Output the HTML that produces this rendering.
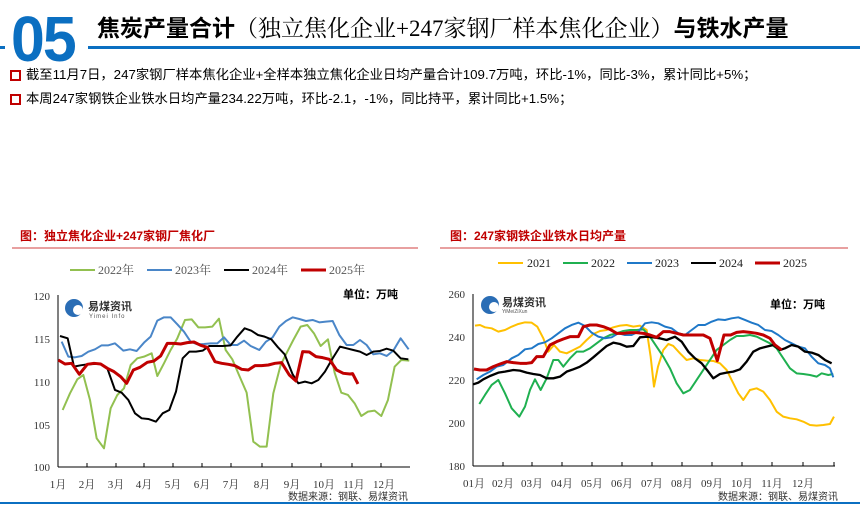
<!DOCTYPE html>
<html><head><meta charset="utf-8">
<style>
body{margin:0;width:860px;height:506px;background:#fff;overflow:hidden;position:relative;font-family:"Liberation Sans","Noto Sans CJK SC",sans-serif;}
.abs{position:absolute;}
</style></head><body>
<div class="abs" style="left:0;top:46px;width:5px;height:3px;background:#0b6fc1"></div>
<div class="abs" style="left:88px;top:46px;width:772px;height:3px;background:#0b6fc1"></div>
<div class="abs" style="left:11px;top:4px;font-size:64px;font-weight:bold;color:#0b6fc1;line-height:70px;transform:scaleX(0.95);transform-origin:left;letter-spacing:-2px">05</div>
<div class="abs" style="left:97px;top:13px;font-size:23px;line-height:30px;white-space:nowrap;color:#000"><b>焦炭产量合计</b><span style="font-family:'Liberation Serif','Noto Serif CJK SC',serif">（独立焦化企业+247家钢厂样本焦化企业）</span><b>与铁水产量</b></div>
<div class="abs" style="left:10px;top:70px;width:7px;height:7px;border:2px solid #c00000"></div>
<div class="abs" style="left:26px;top:66px;font-size:13.3px;line-height:18px;white-space:nowrap">截至11月7日，247家钢厂样本焦化企业+全样本独立焦化企业日均产量合计109.7万吨，环比-1%，同比-3%，累计同比+5%；</div>
<div class="abs" style="left:10px;top:94px;width:7px;height:7px;border:2px solid #c00000"></div>
<div class="abs" style="left:26px;top:90px;font-size:13.3px;line-height:18px;white-space:nowrap">本周247家钢铁企业铁水日均产量234.22万吨，环比-2.1，-1%，同比持平，累计同比+1.5%；</div>
<div class="abs" style="left:0;top:502px;width:860px;height:2px;background:#0b6fc1"></div>

<svg class="abs" style="left:0;top:0" width="860" height="506" font-family="Liberation Serif,Noto Serif CJK SC,serif">
<text x="20" y="240" font-size="12" font-weight="bold" fill="#c00000" font-family="Liberation Sans,Noto Sans CJK SC,sans-serif">图：独立焦化企业+247家钢厂焦化厂</text>
<line x1="12" y1="248" x2="418" y2="248" stroke="#d04040" stroke-width="1"/>
<g font-size="12" fill="#555">
<line x1="70" y1="270" x2="95" y2="270" stroke="#92c050" stroke-width="2"/><text x="98" y="274">2022年</text>
<line x1="147" y1="270" x2="172" y2="270" stroke="#4a86c8" stroke-width="2"/><text x="175" y="274">2023年</text>
<line x1="224" y1="270" x2="249" y2="270" stroke="#000" stroke-width="2"/><text x="252" y="274">2024年</text>
<line x1="301" y1="270" x2="326" y2="270" stroke="#c00000" stroke-width="3"/><text x="329" y="274">2025年</text>
</g>
<text x="343" y="298" font-size="11" font-weight="bold" font-family="Liberation Sans,Noto Sans CJK SC,sans-serif">单位：万吨</text>
<circle cx="74" cy="308" r="9" fill="#2a6db5"/><circle cx="78" cy="310" r="5" fill="#fff"/>
<text x="88" y="310" font-size="11" font-weight="bold" fill="#333" font-family="Liberation Sans,Noto Sans CJK SC,sans-serif">易煤资讯</text>
<text x="89" y="318" font-size="6" fill="#555" font-family="Liberation Sans,sans-serif" letter-spacing="1">Yimei Info</text>
<line x1="58" y1="295" x2="58" y2="467" stroke="#000"/>
<line x1="58" y1="467" x2="410" y2="467" stroke="#000"/>
<g stroke="#000"><line x1="87" y1="467" x2="87" y2="463"/><line x1="116" y1="467" x2="116" y2="463"/><line x1="144" y1="467" x2="144" y2="463"/><line x1="173" y1="467" x2="173" y2="463"/><line x1="202" y1="467" x2="202" y2="463"/><line x1="231" y1="467" x2="231" y2="463"/><line x1="262" y1="467" x2="262" y2="463"/><line x1="292" y1="467" x2="292" y2="463"/><line x1="321" y1="467" x2="321" y2="463"/><line x1="352" y1="467" x2="352" y2="463"/><line x1="381" y1="467" x2="381" y2="463"/></g>
<g font-size="11" fill="#333" text-anchor="end"><text x="50" y="300">120</text><text x="50" y="343">115</text><text x="50" y="386">110</text><text x="50" y="429">105</text><text x="50" y="471">100</text></g>
<g font-size="11" fill="#333" text-anchor="middle"><text x="58" y="488">1月</text><text x="87" y="488">2月</text><text x="116" y="488">3月</text><text x="144" y="488">4月</text><text x="173" y="488">5月</text><text x="202" y="488">6月</text><text x="231" y="488">7月</text><text x="262" y="488">8月</text><text x="292" y="488">9月</text><text x="324" y="488">10月</text><text x="354" y="488">11月</text><text x="384" y="488">12月</text></g>
<text x="408" y="500" font-size="10" fill="#333" text-anchor="end" font-family="Liberation Sans,Noto Sans CJK SC,sans-serif">数据来源：钢联、易煤资讯</text>
<g transform="translate(0,220) scale(0.3333)" fill="none" stroke-linejoin="round">
<polyline stroke="#92c050" stroke-width="6" points="188,570 210,520 232,478 250,465 270,540 290,655 312,685 332,565 352,525 372,505 392,435 412,415 432,410 455,400 472,468 492,430 512,390 532,355 555,300 575,298 595,322 615,322 637,320 657,296 677,390 697,418 717,465 740,518 760,665 780,680 800,680 820,520 842,435 862,395 880,360 902,320 922,315 942,340 962,378 984,358 1004,458 1024,518 1044,525 1064,550 1084,588 1104,575 1124,572 1144,588 1164,540 1184,440 1204,420 1228,422"/>
<polyline stroke="#4a86c8" stroke-width="6" points="185,365 205,410 225,412 245,408 265,395 285,388 305,376 325,376 345,370 370,392 390,388 410,393 432,368 452,350 472,302 492,292 512,292 532,313 552,335 572,365 592,373 612,372 632,370 652,370 672,352 692,375 712,375 732,362 752,378 778,390 798,365 818,352 838,320 858,303 878,292 898,297 918,303 938,300 958,307 978,305 998,303 1018,345 1040,375 1060,375 1080,360 1100,375 1120,403 1140,400 1160,408 1180,392 1202,355 1226,388"/>
<polyline stroke="#000" stroke-width="6" points="180,348 203,355 222,440 242,436 262,433 282,432 302,432 322,445 345,510 365,518 385,540 405,580 425,595 445,597 468,605 488,580 508,570 528,515 548,415 568,395 588,395 608,392 628,378 648,378 668,378 692,376 712,350 734,325 754,332 774,345 794,350 814,358 834,382 854,403 878,463 895,490 915,485 935,490 955,480 975,455 995,420 1020,380 1040,385 1060,390 1080,395 1100,405 1120,395 1140,393 1160,386 1180,392 1202,415 1225,418"/>
<polyline stroke="#c00000" stroke-width="9" points="175,420 195,432 215,430 238,463 262,433 282,430 302,432 322,445 342,455 362,470 380,490 400,450 420,442 442,427 462,423 482,408 502,370 522,370 542,372 562,368 582,366 602,376 622,382 645,425 665,430 685,433 705,437 725,448 745,450 765,437 785,437 805,435 825,430 845,428 868,465 888,483 908,395 928,396 948,410 968,413 988,418 1010,450 1030,460 1050,462 1058,461 1074,492"/>
</g>

<text x="450" y="240" font-size="12" font-weight="bold" fill="#c00000" font-family="Liberation Sans,Noto Sans CJK SC,sans-serif">图：247家钢铁企业铁水日均产量</text>
<line x1="440" y1="248" x2="848" y2="248" stroke="#d04040" stroke-width="1"/>
<g font-size="12" fill="#222">
<line x1="498" y1="263" x2="523" y2="263" stroke="#ffc000" stroke-width="2"/><text x="527" y="267">2021</text>
<line x1="563" y1="263" x2="588" y2="263" stroke="#1fb050" stroke-width="2"/><text x="591" y="267">2022</text>
<line x1="627" y1="263" x2="652" y2="263" stroke="#1f78c8" stroke-width="2"/><text x="655" y="267">2023</text>
<line x1="691" y1="263" x2="716" y2="263" stroke="#000" stroke-width="2"/><text x="719" y="267">2024</text>
<line x1="755" y1="263" x2="780" y2="263" stroke="#c00000" stroke-width="3"/><text x="783" y="267">2025</text>
</g>
<text x="770" y="308" font-size="11" font-weight="bold" font-family="Liberation Sans,Noto Sans CJK SC,sans-serif">单位：万吨</text>
<circle cx="490" cy="305" r="9" fill="#2a6db5"/><circle cx="494" cy="307" r="5" fill="#fff"/>
<text x="502" y="306" font-size="11" font-weight="bold" fill="#333" font-family="Liberation Sans,Noto Sans CJK SC,sans-serif">易煤资讯</text>
<text x="502" y="313" font-size="5" fill="#555" font-family="Liberation Sans,sans-serif">YiMeiZiXun</text>
<line x1="473" y1="294" x2="473" y2="466" stroke="#000"/>
<line x1="473" y1="466" x2="835" y2="466" stroke="#000"/>
<g stroke="#000"><line x1="503" y1="466" x2="503" y2="462"/><line x1="532" y1="466" x2="532" y2="462"/><line x1="562" y1="466" x2="562" y2="462"/><line x1="592" y1="466" x2="592" y2="462"/><line x1="622" y1="466" x2="622" y2="462"/><line x1="652" y1="466" x2="652" y2="462"/><line x1="682" y1="466" x2="682" y2="462"/><line x1="712" y1="466" x2="712" y2="462"/><line x1="742" y1="466" x2="742" y2="462"/><line x1="772" y1="466" x2="772" y2="462"/><line x1="803" y1="466" x2="803" y2="462"/><line x1="834" y1="466" x2="834" y2="462"/></g>
<g font-size="11" fill="#333" text-anchor="end"><text x="465" y="298">260</text><text x="465" y="341">240</text><text x="465" y="384">220</text><text x="465" y="427">200</text><text x="465" y="470">180</text></g>
<g font-size="11" fill="#333" text-anchor="middle"><text x="474" y="487">01月</text><text x="503" y="487">02月</text><text x="532" y="487">03月</text><text x="562" y="487">04月</text><text x="592" y="487">05月</text><text x="622" y="487">06月</text><text x="652" y="487">07月</text><text x="682" y="487">08月</text><text x="712" y="487">09月</text><text x="742" y="487">10月</text><text x="772" y="487">11月</text><text x="803" y="487">12月</text></g>
<text x="838" y="500" font-size="10" fill="#333" text-anchor="end" font-family="Liberation Sans,Noto Sans CJK SC,sans-serif">数据来源：钢联、易煤资讯</text>
<g transform="translate(430,220) scale(0.3333)" fill="none" stroke-linejoin="round">
<polyline stroke="#ffc000" stroke-width="6" points="135,317 150,315 165,322 185,325 205,335 225,330 245,320 265,312 285,307 305,308 322,320 340,355 355,395 372,375 390,395 410,400 430,390 450,380 470,360 490,342 510,333 530,330 550,322 570,317 590,315 610,320 630,317 650,330 662,410 672,500 684,440 700,390 715,372 730,378 750,400 770,420 790,415 810,420 830,422 850,423 870,430 890,450 910,490 925,520 940,540 960,510 980,505 1000,515 1020,540 1040,575 1060,590 1080,595 1100,598 1120,605 1140,615 1160,617 1180,615 1200,612 1212,590"/>
<polyline stroke="#1fb050" stroke-width="6" points="148,552 165,525 185,495 205,480 225,520 245,565 268,590 285,560 300,510 315,478 332,510 350,475 370,420 385,420 400,440 420,415 440,395 460,395 480,385 500,370 520,355 540,345 560,340 580,333 600,330 620,330 640,328 660,350 680,380 700,410 720,445 740,490 760,520 780,510 800,480 820,450 840,420 860,390 880,375 900,360 920,348 940,348 960,345 980,350 1000,360 1020,370 1040,385 1060,415 1080,445 1100,460 1120,462 1140,465 1160,470 1175,460 1195,465 1210,462"/>
<polyline stroke="#1f78c8" stroke-width="6" points="140,478 160,465 180,455 200,440 220,435 245,415 265,405 285,388 305,385 325,372 345,367 365,355 385,340 405,325 425,315 445,308 465,318 485,338 505,350 525,355 545,352 565,340 585,345 605,345 625,335 645,310 665,307 685,310 705,320 725,325 745,340 765,345 785,330 805,315 825,315 845,305 865,298 885,300 905,295 925,292 945,300 965,308 985,315 1005,330 1025,333 1045,345 1065,360 1085,370 1105,380 1125,385 1145,410 1165,430 1185,435 1200,445 1210,472"/>
<polyline stroke="#000" stroke-width="7" points="130,493 145,488 160,478 180,468 205,458 225,455 250,450 270,452 290,458 310,462 330,465 350,475 370,475 390,470 410,455 430,448 450,440 470,428 490,412 510,395 530,378 550,368 570,372 590,380 610,378 630,352 650,350 670,352 690,355 710,360 735,350 755,365 775,395 795,415 815,430 835,455 850,475 870,462 890,458 910,455 930,448 950,425 970,395 990,385 1010,380 1030,375 1050,390 1065,385 1085,375 1105,380 1125,395 1145,398 1165,405 1185,420 1205,430"/>
<polyline stroke="#c00000" stroke-width="9" points="132,447 150,450 170,450 190,440 210,432 230,425 250,428 270,430 290,430 305,428 320,410 340,410 360,375 380,365 400,357 420,350 445,350 460,320 480,315 500,315 520,320 540,328 560,340 580,340 600,338 620,338 640,340 660,345 680,352 700,335 720,335 740,340 760,345 780,345 800,345 820,345 840,355 862,422 882,345 902,345 920,337 940,335 960,337 980,340 1000,345 1020,355 1035,375 1055,390"/>
</g>
</svg>
</body></html>
